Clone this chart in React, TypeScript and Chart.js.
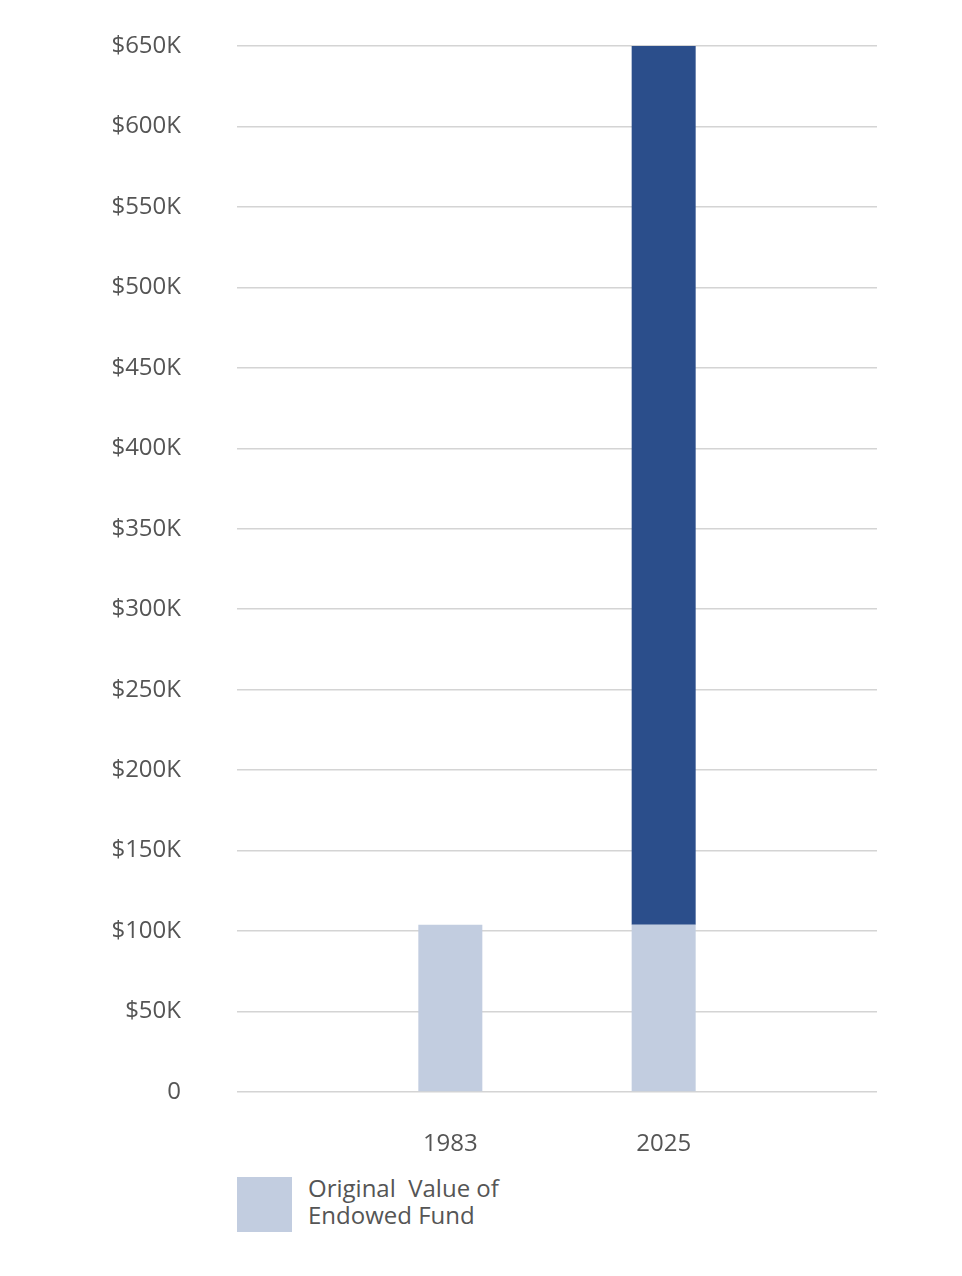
import { useEffect, useRef } from 'react'
import { Chart, registerables, type ChartConfiguration } from 'chart.js'

Chart.register(...registerables)

// slots padded with empty labels so the two years sit on the inner tick marks
const years = ['', '1983', '2025', '']
const originalValue = [null, 104000, 104000, null]
const growth = [null, null, 548000, null]
const yTicks = [0, 50000, 100000, 150000, 200000, 250000, 300000, 350000, 400000, 450000, 500000, 550000, 600000, 650000]
const legendLabel = ['Original  Value of', 'Endowed Fund']

const LIGHT = '#c2cde0'
const DARK = '#2b4e8b'
const TEXT = '#555555'
const FONT = '"Open Sans", Lato, sans-serif'

export default function App() {
  const canvasRef = useRef<HTMLCanvasElement | null>(null)

  useEffect(() => {
    const canvas = canvasRef.current
    if (!canvas) {
      return
    }

    const config: ChartConfiguration<'bar'> = {
      type: 'bar',
      data: {
        labels: years,
        datasets: [
          {
            label: legendLabel.join(' '),
            data: originalValue,
            backgroundColor: LIGHT,
            stack: 'fund',
          },
          {
            label: 'Growth',
            data: growth,
            backgroundColor: DARK,
            stack: 'fund',
          },
        ],
      },
      options: {
        responsive: true,
        maintainAspectRatio: false,
        animation: false,
        layout: {
          padding: { top: 38, right: 77, bottom: 0, left: 0 },
        },
        datasets: {
          bar: {
            categoryPercentage: 1,
            barPercentage: 0.3,
          },
        },
        plugins: {
          legend: { display: false },
          tooltip: { enabled: false },
        },
        scales: {
          x: {
            stacked: true,
            offset: false,
            afterFit: (scale) => {
              scale.height = 64
            },
            grid: { display: false },
            border: { display: false },
            ticks: {
              color: TEXT,
              padding: 30,
              font: { family: FONT, size: 24 },
            },
          },
          y: {
            stacked: true,
            min: 0,
            max: yTicks[yTicks.length - 1],
            afterBuildTicks: (scale) => {
              scale.ticks = yTicks.map((value) => ({ value }))
            },
            afterFit: (scale) => {
              scale.width = 229
              scale.paddingTop = 14
              scale.paddingBottom = 14
            },
            grid: {
              color: '#d4d4d4',
              lineWidth: 1.5,
              drawTicks: false,
            },
            border: { display: false },
            ticks: {
              color: TEXT,
              padding: 56,
              font: { family: FONT, size: 24 },
              callback: (value) => (Number(value) === 0 ? '0' : `$${Number(value) / 1000}K`),
            },
          },
        },
      },
    }

    const chart = new Chart(canvas, config)

    return () => {
      chart.destroy()
    }
  }, [])

  return (
    <div style={{ width: 946, fontFamily: FONT }}>
      <div style={{ position: 'relative', height: 1148 }}>
        <canvas ref={canvasRef} aria-label="Endowed fund value, 1983 and 2025" role="img" />
      </div>
      <div style={{ display: 'flex', alignItems: 'flex-start', marginTop: 21, marginLeft: 229 }}>
        <span style={{ width: 55, height: 55, background: LIGHT, flex: 'none' }} />
        <span
          style={{
            marginLeft: 16,
            marginTop: -3,
            color: TEXT,
            fontSize: 24,
            lineHeight: '27px',
            whiteSpace: 'pre',
          }}
        >
          {legendLabel[0]}
          <br />
          {legendLabel[1]}
        </span>
      </div>
    </div>
  )
}
